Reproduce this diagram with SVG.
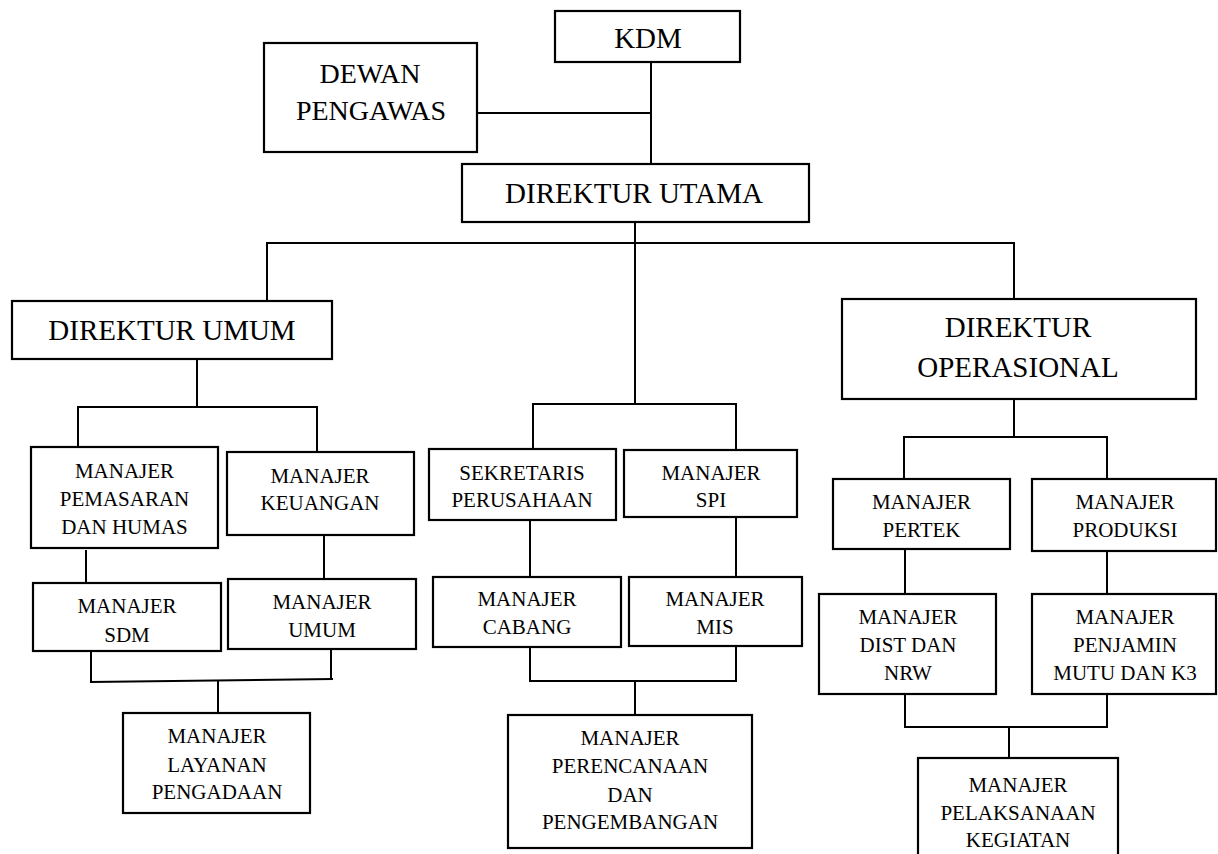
<svg xmlns="http://www.w3.org/2000/svg" width="1218" height="854" viewBox="0 0 1218 854">
<style>
rect{fill:#fff;stroke:#000;stroke-width:2.2}
#connectors line{stroke:#000;stroke-width:2}
text{fill:#000;text-anchor:middle}
.big{font-size:29px}
.mid{font-size:28px}
.sm{font-size:21px}
</style>
<rect x="0" y="0" width="1218" height="854" style="fill:#fff;stroke:none"/>
<g id="connectors">
<line x1="651" y1="62" x2="651" y2="164"/>
<line x1="477" y1="113" x2="651" y2="113"/>
<line x1="635" y1="222" x2="635" y2="404"/>
<line x1="266" y1="243" x2="1015" y2="243"/>
<line x1="267" y1="243" x2="267" y2="301"/>
<line x1="1014" y1="243" x2="1014" y2="299"/>
<line x1="532" y1="404" x2="737" y2="404"/>
<line x1="533" y1="404" x2="533" y2="449"/>
<line x1="736" y1="404" x2="736" y2="450"/>
<line x1="197" y1="359" x2="197" y2="407"/>
<line x1="77" y1="407" x2="318" y2="407"/>
<line x1="78" y1="407" x2="78" y2="447"/>
<line x1="317" y1="407" x2="317" y2="452"/>
<line x1="86" y1="550" x2="86" y2="583"/>
<line x1="324" y1="535" x2="324" y2="579"/>
<line x1="91" y1="651" x2="91" y2="682"/>
<line x1="331" y1="649" x2="331" y2="680"/>
<line x1="90" y1="682" x2="333" y2="679"/>
<line x1="218" y1="681" x2="218" y2="713"/>
<line x1="530" y1="520" x2="530" y2="577"/>
<line x1="736" y1="517" x2="736" y2="577"/>
<line x1="530" y1="647" x2="530" y2="681"/>
<line x1="736" y1="646" x2="736" y2="681"/>
<line x1="529" y1="681" x2="737" y2="681"/>
<line x1="635" y1="681" x2="635" y2="715"/>
<line x1="1014" y1="399" x2="1014" y2="437"/>
<line x1="903" y1="437" x2="1108" y2="437"/>
<line x1="904" y1="437" x2="904" y2="479"/>
<line x1="1107" y1="437" x2="1107" y2="479"/>
<line x1="905" y1="549" x2="905" y2="594"/>
<line x1="1107" y1="551" x2="1107" y2="594"/>
<line x1="905" y1="694" x2="905" y2="727"/>
<line x1="1107" y1="694" x2="1107" y2="727"/>
<line x1="904" y1="727" x2="1108" y2="727"/>
<line x1="1009" y1="727" x2="1009" y2="758"/>
</g>
<g font-family="'Liberation Serif', 'Times New Roman', Times, 'DejaVu Serif', serif">
<g id="kdm"><rect x="555" y="11" width="185" height="51"/><text class="big" x="648" y="48">KDM</text></g>
<g id="dewan-pengawas"><rect x="264" y="43" width="213" height="109"/><text class="mid" x="370" y="83">DEWAN</text><text class="mid" x="371" y="120">PENGAWAS</text></g>
<g id="direktur-utama"><rect x="462" y="164" width="347" height="58"/><text class="big" x="634" y="203">DIREKTUR UTAMA</text></g>
<g id="direktur-umum"><rect x="12" y="301" width="320" height="58"/><text class="big" x="172" y="340">DIREKTUR UMUM</text></g>
<g id="direktur-operasional"><rect x="842" y="299" width="354" height="100"/><text class="big" x="1018" y="337">DIREKTUR</text><text class="big" x="1018" y="377">OPERASIONAL</text></g>
<g id="manajer-pemasaran"><rect x="31" y="447" width="187" height="101"/><text class="sm" x="124.5" y="478">MANAJER</text><text class="sm" x="124.5" y="506">PEMASARAN</text><text class="sm" x="124.5" y="534">DAN HUMAS</text></g>
<g id="manajer-keuangan"><rect x="227" y="452" width="187" height="83"/><text class="sm" x="320" y="483">MANAJER</text><text class="sm" x="320" y="510">KEUANGAN</text></g>
<g id="sekretaris"><rect x="429" y="449" width="187" height="71"/><text class="sm" x="522" y="480">SEKRETARIS</text><text class="sm" x="522" y="507">PERUSAHAAN</text></g>
<g id="manajer-spi"><rect x="624" y="450" width="173" height="67"/><text class="sm" x="711" y="480">MANAJER</text><text class="sm" x="711" y="507">SPI</text></g>
<g id="manajer-pertek"><rect x="833" y="479" width="177" height="70"/><text class="sm" x="921.5" y="509">MANAJER</text><text class="sm" x="921.5" y="537">PERTEK</text></g>
<g id="manajer-produksi"><rect x="1032" y="479" width="184" height="72"/><text class="sm" x="1125" y="509">MANAJER</text><text class="sm" x="1125" y="537">PRODUKSI</text></g>
<g id="manajer-sdm"><rect x="33" y="583" width="188" height="68"/><text class="sm" x="127" y="613">MANAJER</text><text class="sm" x="127" y="642">SDM</text></g>
<g id="manajer-umum"><rect x="228" y="579" width="188" height="70"/><text class="sm" x="322" y="609">MANAJER</text><text class="sm" x="322" y="637">UMUM</text></g>
<g id="manajer-cabang"><rect x="433" y="577" width="188" height="70"/><text class="sm" x="527" y="606">MANAJER</text><text class="sm" x="527" y="634">CABANG</text></g>
<g id="manajer-mis"><rect x="629" y="577" width="173" height="69"/><text class="sm" x="715" y="606">MANAJER</text><text class="sm" x="715" y="634">MIS</text></g>
<g id="manajer-dist"><rect x="819" y="594" width="177" height="100"/><text class="sm" x="908" y="624">MANAJER</text><text class="sm" x="908" y="652">DIST DAN</text><text class="sm" x="908" y="680">NRW</text></g>
<g id="manajer-penjamin"><rect x="1032" y="594" width="184" height="100"/><text class="sm" x="1125" y="624">MANAJER</text><text class="sm" x="1125" y="652">PENJAMIN</text><text class="sm" x="1125" y="680">MUTU DAN K3</text></g>
<g id="manajer-layanan"><rect x="123" y="713" width="187" height="100"/><text class="sm" x="217" y="743">MANAJER</text><text class="sm" x="217" y="772">LAYANAN</text><text class="sm" x="217" y="799">PENGADAAN</text></g>
<g id="manajer-perencanaan"><rect x="508" y="715" width="244" height="133"/><text class="sm" x="630" y="745">MANAJER</text><text class="sm" x="630" y="773">PERENCANAAN</text><text class="sm" x="630" y="802">DAN</text><text class="sm" x="630" y="829">PENGEMBANGAN</text></g>
<g id="manajer-pelaksanaan"><rect x="918" y="758" width="200" height="110"/><text class="sm" x="1018" y="792">MANAJER</text><text class="sm" x="1018" y="820">PELAKSANAAN</text><text class="sm" x="1018" y="847">KEGIATAN</text></g>
</g>
</svg>
